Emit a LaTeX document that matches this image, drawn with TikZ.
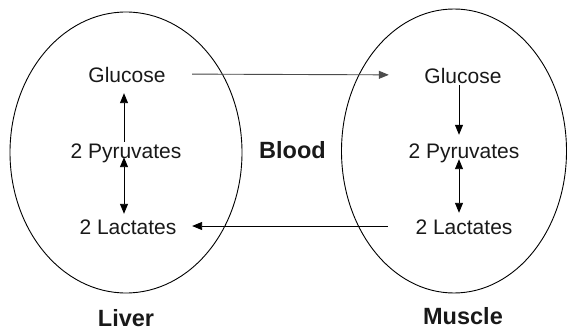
\documentclass[tikz,border=0pt]{standalone}
\usepackage{fontspec}
\setmainfont{Liberation Sans}
\usetikzlibrary{arrows.meta}
\begin{document}
\begin{tikzpicture}[x=1pt,y=-1pt,
  lbl/.style={font=\fontsize{21}{23}\selectfont, inner sep=0pt, text height=15pt, text depth=0pt, text=black!90},
  big/.style={font=\fontsize{23.5}{26}\selectfont\bfseries, inner sep=0pt, text=black!90},
  arr/.style={line width=0.9pt, -{Triangle[length=10pt,width=8pt]}},
  darr/.style={line width=0.9pt, {Triangle[length=10pt,width=8pt]}-{Triangle[length=10pt,width=8pt]}},
  organ/.style={draw, line width=0.9pt}]
\useasboundingbox (0,0) rectangle (567,331);
\draw[organ] (126,152.5) ellipse [x radius=116, y radius=140.5];
\draw[organ] (454,151) ellipse [x radius=112.5, y radius=142];
\node[lbl] (lg) at (127,75) {Glucose};
\node[lbl] (lp) at (126,151) {2 Pyruvates};
\node[lbl] (ll) at (128,227) {2 Lactates};
\node[lbl] (rg) at (463,76) {Glucose};
\node[lbl] (rp) at (464,151) {2 Pyruvates};
\node[lbl] (rl) at (464,227) {2 Lactates};
\node[big] (blood) at (292.5,150) {Blood};
\node[big] (liver) at (126,318) {Liver};
\node[big] (muscle) at (463,316.5) {Muscle};
\coordinate (lcol) at (124,0);
\coordinate (rcol) at (459,0);
\draw[arr, shorten <=1.5pt, shorten >=10.5pt] (lp.north -| lcol) -- (lg.south -| lcol);
\draw[darr, shorten <=-1.5pt, shorten >=5.5pt] (lp.south -| lcol) -- (ll.north -| lcol);
\draw[arr, shorten <=1.5pt, shorten >=8.5pt] (rg.south -| rcol) -- (rp.north -| rcol);
\draw[darr, shorten <=0.5pt, shorten >=6.5pt] (rp.south -| rcol) -- (rl.north -| rcol);
\draw[arr, draw=black!70, fill=black!70, shorten <=26.5pt, shorten >=35.5pt] ([yshift=1pt]lg.east) -- ([yshift=1pt]rg.west);
\draw[arr, shorten <=27.5pt, shorten >=15.5pt] ([yshift=1pt]rl.west) -- ([yshift=1pt]ll.east);
\end{tikzpicture}
\end{document}
